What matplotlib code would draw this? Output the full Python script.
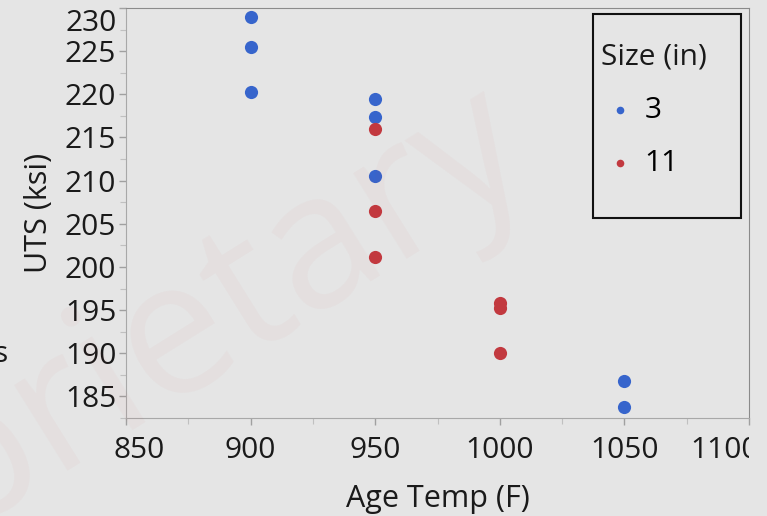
import matplotlib.pyplot as plt
from matplotlib.patches import Rectangle
from matplotlib.ticker import MultipleLocator
from matplotlib.transforms import ScaledTranslation, Bbox, TransformedBbox

# UTS vs age temperature, grouped by bar size
temp_3in = [900, 900, 900, 950, 950, 950, 1050, 1050]
uts_3in = [228.9, 225.5, 220.3, 219.5, 217.4, 210.5, 186.8, 183.8]

temp_11in = [950, 950, 950, 1000, 1000, 1000]
uts_11in = [216.0, 206.5, 201.2, 195.8, 195.2, 190.0]

size_labels = ['3', '11']

bg = '#e5e5e5'
blue = '#3765cc'
red = '#c2393f'

plt.rcParams['font.family'] = ['Open Sans', 'DejaVu Sans']

fig = plt.figure(figsize=(7.67, 5.16), dpi=100, facecolor=bg)
ax = fig.add_axes([126 / 767, 1 - 418 / 516, 623 / 767, 410 / 516])
ax.set_facecolor('none')

# faint watermark behind everything
fig.text(536 / 767, 1 - 167 / 516, 'Proprietary', fontsize=135, color='#d03030',
         alpha=0.035, rotation=32, rotation_mode='anchor', ha='right',
         va='baseline', zorder=0)

ax.scatter(temp_3in, uts_3in, s=90, color=blue, linewidths=0, zorder=3)
ax.scatter(temp_11in, uts_11in, s=90, color=red, linewidths=0, zorder=3)

ax.set_xlim(850, 1100)
ax.set_ylim(182.5, 230)
ax.xaxis.set_major_locator(MultipleLocator(50))
ax.xaxis.set_minor_locator(MultipleLocator(25))
ax.yaxis.set_major_locator(MultipleLocator(5))
ax.yaxis.set_minor_locator(MultipleLocator(2.5))

for side in ['left', 'bottom']:
    ax.spines[side].set_color('#a8a8a8')
for side in ['top', 'right']:
    ax.spines[side].set_color('#8a8a8a')

ax.tick_params(which='major', length=5, width=1, color='#a0a0a0',
               labelsize=21.5, labelcolor='#1a1a1a')
ax.tick_params(which='minor', length=4, width=0.8, color='#c0c0c0')
ax.tick_params(axis='y', which='major', pad=2)
ax.tick_params(axis='x', which='major', pad=8)

ax.set_xlabel('Age Temp (F)', fontsize=22, color='#1a1a1a', labelpad=14)
ax.set_ylabel('UTS (ksi)', fontsize=22, color='#1a1a1a', labelpad=8)

fig.canvas.draw()

# JMP nudges the edge labels inward; the screenshot is cut just past the frame
clip = TransformedBbox(Bbox([[0, 0], [749 / 767, 1]]), fig.transFigure)
for t in ax.xaxis.get_major_ticks():
    loc = t.get_loc()
    if abs(loc - 850) < 1e-6:
        t.label1.set_transform(t.label1.get_transform()
                               + ScaledTranslation(13 / 100, 0, fig.dpi_scale_trans))
    elif abs(loc - 1100) < 1e-6:
        t.label1.set_transform(t.label1.get_transform()
                               + ScaledTranslation(-24 / 100, 0, fig.dpi_scale_trans))
        t.label1.set_clip_on(True)
        t.label1.set_clip_box(clip)
for t in ax.yaxis.get_major_ticks():
    if abs(t.get_loc() - 230) < 1e-6:
        t.label1.set_transform(t.label1.get_transform()
                               + ScaledTranslation(0, -12 / 100, fig.dpi_scale_trans))

# legend box drawn separately so it has the empty room at the bottom
box = Rectangle((593 / 767, 1 - 218 / 516), 148 / 767, 204 / 516,
                transform=fig.transFigure, facecolor='none',
                edgecolor='#111111', linewidth=1.5, zorder=5)
fig.add_artist(box)

h3 = ax.scatter([], [], s=30, color=blue, linewidths=0)
h11 = ax.scatter([], [], s=30, color=red, linewidths=0)
leg = fig.legend([h3, h11], size_labels, title='Size (in)', loc='upper left',
                 bbox_to_anchor=(580 / 767, 1 - 22 / 516), frameon=False,
                 fontsize=21.5, title_fontsize=21.5, handlelength=1.25,
                 handletextpad=0.2, labelspacing=0.8, borderpad=0.2)
leg._legend_box.align = 'left'
leg.get_title().set_color('#1a1a1a')

# fragment of a neighbouring label cut at the left edge
fig.text(8 / 767, 1 - 362 / 516, 's', fontsize=21.5, color='#1a1a1a',
         ha='right', va='baseline')

fig.savefig('out.png', dpi=100, facecolor=bg)
